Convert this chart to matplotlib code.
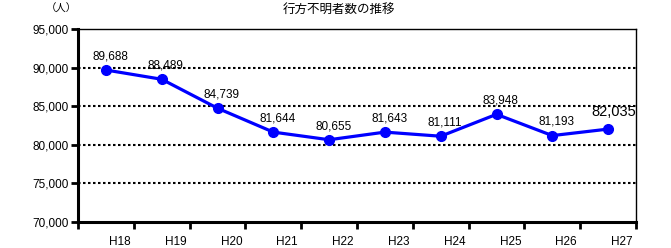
import matplotlib
matplotlib.use("Agg")
import matplotlib.pyplot as plt
import numpy as np

plt.rcParams['font.family'] = ['Liberation Sans', 'Noto Sans CJK JP', 'DejaVu Sans']

years = ["H18", "H19", "H20", "H21", "H22", "H23", "H24", "H25", "H26", "H27"]
values = [89688, 88489, 84739, 81644, 80655, 81643, 81111, 83948, 81193, 82035]
yticks = [70000, 75000, 80000, 85000, 90000, 95000]

fig = plt.figure(figsize=(6.71, 2.48), dpi=100)
ax = fig.add_axes([78/671, 1-222/248, (636-78)/671, (222-29)/248])

x = np.arange(len(years))
ax.set_xlim(-0.5, len(years) - 0.5)
ax.set_ylim(70000, 95000)

for yv in yticks[1:-1]:
    ax.axhline(yv, color='black', linestyle=(0, (1.2, 1.2)), linewidth=1.5, zorder=1)

ax.plot(x, values, color='#0000ff', linewidth=2.3, marker='o', markersize=7, zorder=3)

for i, v in enumerate(values):
    if i == len(values) - 1:
        ax.annotate(f"{v:,}", (i, v), xytext=(4, 7), textcoords='offset points',
                    ha='center', va='bottom', fontsize=10.5)
    else:
        ax.annotate(f"{v:,}", (i, v), xytext=(3, 5.5), textcoords='offset points',
                    ha='center', va='bottom', fontsize=8.5)

ax.set_yticks(yticks)
ax.set_yticklabels([f"{t:,}" for t in yticks], fontsize=8.5)
ax.set_xticks(np.arange(len(years) + 1) - 0.5)
ax.set_xticklabels([])
ax.set_xticks(x + 0.25, minor=True)
ax.set_xticklabels(years, minor=True, fontsize=8.5)
ax.tick_params(axis='x', which='major', direction='out', length=5, width=2)
ax.tick_params(axis='x', which='minor', length=0, pad=10)
ax.tick_params(axis='y', direction='out', length=5, width=2, pad=2)

for s in ['left', 'bottom']:
    ax.spines[s].set_linewidth(2.2)
for s in ['top', 'right']:
    ax.spines[s].set_linewidth(1.0)

fig.text(339/671, 1-10/248, "行方不明者数の推移", ha='center', va='center',
         fontsize=9, family=['Noto Sans CJK JP'])
fig.text(61/671, 1-9/248, "（人）", ha='center', va='center',
         fontsize=7.5, family=['Noto Sans CJK JP'])

fig.savefig("out.png", dpi=100)
